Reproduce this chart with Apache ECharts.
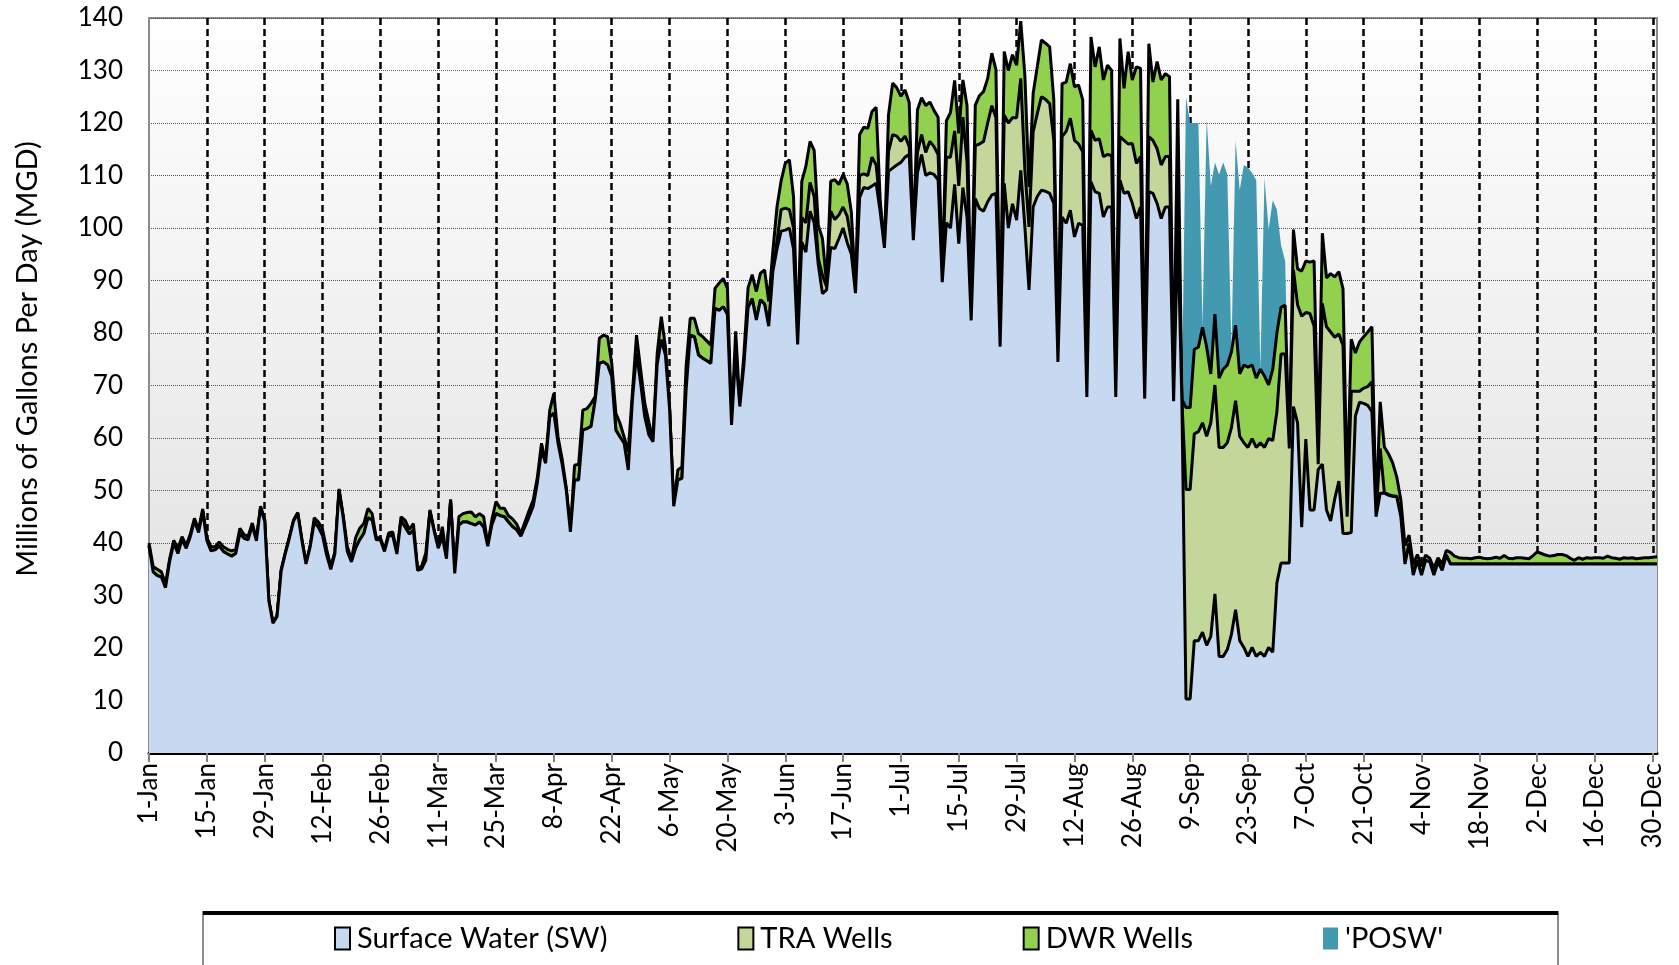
<!DOCTYPE html>
<html>
<head>
<meta charset="utf-8">
<script src="https://cdn.jsdelivr.net/npm/echarts@6/dist/echarts.min.js"></script>
<style>
  html, body { margin: 0; padding: 0; background: #fff; }
  #main { width: 1679px; height: 965px; }
</style>
</head>
<body>
<div id="main"></div>
<script>
// leap year, 1-Jan .. 31-Dec (366 days)
var monthNames = ['Jan','Feb','Mar','Apr','May','Jun','Jul','Aug','Sep','Oct','Nov','Dec'];
var monthDays = [31,29,31,30,31,30,31,31,30,31,30,31];
var days = [];
for (var m = 0; m < 12; m++) {
    for (var d = 1; d <= monthDays[m]; d++) {
        days.push(d + '-' + monthNames[m]);
    }
}

//Surface Water (SW)
var swData = [
    39.5, 34.5, 33.8, 33.5, 31.5, 36.5, 40, 38, 40.7, 39,
    41.2, 44.2, 42, 46, 40.5, 38.5, 38.7, 39.4, 38.4, 37.9,
    37.5, 38, 41.8, 40.9, 40.6, 43.3, 40.4, 46.7, 44.2, 29,
    24.7, 26, 34.7, 38, 41, 44.2, 45.6, 40.5, 36, 39.2,
    44, 43, 41.4, 37.7, 35, 38, 50, 44.8, 38.4, 36.4,
    39, 40.6, 41.8, 44.8, 44.4, 40.6, 40.6, 38.4, 41.4, 41.4,
    37.9, 44.3, 43, 41.7, 42.4, 34.8, 35.1, 36.7, 46, 42.3,
    39, 41.2, 37, 48, 34.2, 43.4, 44, 44, 43.7, 43.4,
    44, 43, 39.4, 43.5, 45.6, 45.2, 45, 44, 43.1, 42.5,
    41.3, 43.1, 45, 47, 51.5, 57.7, 55.2, 64, 64.7, 59,
    55, 50, 42.1, 52, 52, 61.5, 61.8, 62.2, 67.2, 74.2,
    74.5, 73.9, 71.7, 61.5, 60.2, 59, 53.9, 67.2, 76.1, 70.4,
    64, 60.6, 59.3, 74, 78.7, 75.8, 65.5, 47, 52, 52.3,
    69.1, 79.6, 79.3, 75.8, 75.2, 74.7, 74.2, 84.7, 84.3, 85,
    83.5, 62.5, 76, 66, 74, 84.8, 86.5, 82.5, 86.3, 85.5,
    81.3, 91.7, 96, 99.4, 99.6, 100, 96, 77.8, 97.3, 95.4,
    103.2, 101, 93, 87.5, 88.2, 96.3, 96.1, 98, 100, 97.2,
    95, 87.6, 105.8, 107.7, 107.5, 108, 108.5, 103, 96.2, 110.8,
    111.4, 112, 112.5, 113.5, 114, 97.7, 110.5, 114, 110, 110.5,
    110.2, 109.2, 89.7, 101, 100, 108.3, 97, 107.7, 102, 82.4,
    105.6, 103.7, 103.2, 105, 106.3, 106.6, 77.4, 108.5, 100, 104.6,
    101.5, 111, 100.2, 88.2, 104, 106, 107.2, 107, 106.6, 104.7,
    74.5, 102.1, 100.9, 103.4, 98.3, 100.9, 100.5, 67.8, 108.8, 106.9,
    106.6, 102.1, 104, 104, 67.8, 109.1, 106.6, 106.9, 104.7, 101.8,
    104, 67.5, 106.9, 106.6, 104.7, 101.8, 104, 104, 67, 100,
    67, 10.3, 10.3, 21.4, 21.4, 23, 20.5, 22.2, 30.3, 18.4,
    18.4, 19.7, 22.6, 27.3, 21.4, 20.1, 18.4, 20.1, 18.4, 19.2,
    18.4, 20.1, 19.2, 32.4, 36.2, 36.2, 36.2, 66, 62.9, 43,
    59.8, 46.3, 46.3, 54, 55, 46.3, 44.2, 48.4, 51.8, 41.8,
    41.8, 42, 64.2, 66.8, 66.6, 66.2, 65, 45, 49.5, 49.5,
    49.1, 48.9, 48.8, 45, 36, 39.9, 33.9, 36.7, 33.9, 36.7,
    36.4, 33.9, 36.4, 34.8, 37.7, 36, 36, 36, 36, 36,
    36, 36, 36, 36, 36, 36, 36, 36, 36, 36,
    36, 36, 36, 36, 36, 36, 36, 36, 36, 36,
    36, 36, 36, 36, 36, 36, 36, 36, 36, 36,
    36, 36, 36, 36, 36, 36, 36, 36, 36, 36,
    36, 36, 36, 36, 36, 36
];

//TRA Wells
var traData = [
    0, 0, 0, 0, 0, 0, 0, 0, 0, 0, 0, 0, 0, 0, 0, 0, 0, 0, 0, 0,
    0, 0, 0, 0, 0, 0, 0, 0, 0, 0, 0, 0, 0, 0, 0, 0, 0, 0, 0, 0,
    0, 0, 0, 0, 0, 0, 0, 0, 0, 0, 0, 0, 0, 0, 0, 0, 0, 0, 0, 0,
    0, 0, 0, 0, 0, 0, 0, 0, 0, 0, 0, 0, 0, 0, 0, 0, 0, 0, 0, 0,
    0, 0, 0, 0, 0, 0, 0, 0, 0, 0, 0, 0, 0, 0, 0, 0, 0, 0, 0, 0,
    0, 0, 0, 0, 0, 0, 0, 0, 0, 0, 0, 0, 0, 0, 0, 0, 0, 0, 0, 0,
    0, 0, 0, 0, 0, 0, 0, 0, 0, 0, 0, 0, 0, 0, 0, 0, 0, 0, 0, 0,
    0, 0, 0, 0, 0, 0, 0, 0, 0, 0,
    0, 0, 1.5, 4.1, 4.2, 3.5, 4, 0.2, 4.7, 5.6,
    5.5, 5, 1.2, 3.5, 0.6, 6.9, 5.5, 4.5, 4, 5,
    2.5, 0.2, 4.2, 2.6, 2.5, 5.5, 3.5, 1, 0.1, 3.8,
    6.4, 5.5, 4, 4, 1.5, 0.1, 3.9, 3.8, 4.4, 6,
    5.3, 4.8, 0.1, 12.5, 13.5, 10.2, 11, 13.4, 10.5, 0.1,
    10.1, 12.3, 13.3, 15, 17, 14.4, 0.1, 13, 20, 16.4,
    19.5, 17.5, 10.8, 12, 14.3, 15.8, 17.8, 17.5, 17.1, 12,
    0.1, 15.3, 17.5, 17.5, 18.4, 15.1, 14, 0.1, 9.8, 9.8,
    10.4, 11.5, 10, 9.8, 0.1, 8.3, 10.1, 9.1, 11.4, 10.5,
    9.6, 0.1, 10.5, 10.1, 10.4, 10.2, 9.6, 9.6, 0.1, 10,
    0.1, 39.9, 39.9, 39.4, 39.8, 39.9, 39.8, 40.7, 39.8, 39.8,
    39.8, 39.4, 39.4, 39.8, 38.9, 39, 39.8, 39.8, 39.8, 39.9,
    39.8, 39.8, 40.3, 32.6, 39.8, 39.8, 21.8, 26, 22.5, 40.2,
    24.1, 37.4, 35, 1, 30.6, 34.9, 36, 30.8, 28, 35.8,
    3.2, 26.9, 4.7, 2.1, 2.9, 3.6, 5.7, 0.2, 8.5, 0.2,
    0.1, 0.1, 0.1, 0, 0, 0, 0, 0, 0, 0,
    0, 0, 0, 0, 0, 0, 0, 0, 0, 0, 0, 0, 0, 0, 0, 0, 0, 0, 0, 0,
    0, 0, 0, 0, 0, 0, 0, 0, 0, 0, 0, 0, 0, 0, 0, 0, 0, 0, 0, 0,
    0, 0, 0, 0, 0, 0, 0, 0, 0, 0, 0, 0, 0, 0, 0, 0
];

//DWR Wells
var dwrData = [
    0.5, 1, 1.2, 1, 0.7, 0.5, 0.5, 1, 0.5, 0.5,
    0.5, 0.5, 0.5, 0.5, 0.5, 0.8, 0.6, 0.8, 0.9, 0.9,
    1, 0.8, 1, 0.7, 0.7, 0.5, 0.4, 0.3, 0.3, 0.2,
    0.2, 0.2, 0.3, 0.2, 0.2, 0.2, 0.2, 0.2, 0.2, 0.2,
    0.8, 1, 1.2, 1.1, 0.5, 0.3, 0.3, 0.5, 0.9, 0.5,
    2, 2.2, 1.9, 1.8, 1.2, 0.4, 0.4, 0.4, 0.5, 0.7,
    0.3, 0.7, 1.3, 0.9, 1.3, 0.3, 0.5, 1.4, 0.3, 0.3,
    0.3, 1.9, 0.4, 0.3, 0.2, 1.6, 1.6, 1.8, 2.2, 1.6,
    1.6, 2, 0.3, 1, 2.3, 1.4, 1.6, 1.2, 1.5, 1.1,
    0.5, 0.9, 1.2, 1.2, 1, 1.3, 0.3, 1.3, 3.8, 1.2,
    1, 0.5, 0.3, 2.8, 3, 3.8, 3.8, 4.4, 0.7, 4.8,
    5.1, 5.4, 2.5, 3.2, 2.6, 1.2, 3.5, 1.3, 3.5, 2.6,
    2.6, 2.4, 0.3, 2.1, 4.4, 1.6, 0.5, 0.2, 1.9, 2.2,
    4.5, 3.2, 3.5, 4.1, 4.1, 3.8, 3.5, 3.8, 5.2, 5.4,
    5, 0.5, 4.3, 0.3, 2, 3.8, 4.6, 5.4, 5.1, 6.5,
    4.7, 3.9, 6.5, 5.5, 8.5, 9.5, 6, 0.3, 6.9, 10.8,
    7.8, 8.8, 6.3, 7, 0.7, 5.7, 7.6, 5.8, 6.2, 6.2,
    5.5, 0.2, 7.8, 8.9, 9, 8.7, 11, 1, 0.2, 7,
    9.8, 9.2, 8.6, 8.8, 8.4, 0.2, 8.1, 7, 8.9, 7.5,
    6.9, 7.1, 0.2, 6.9, 8.5, 9.6, 10, 7.1, 10.8, 0.2,
    7.7, 9.2, 9.5, 8.5, 10, 9.1, 0.2, 12.1, 10, 12,
    10, 10.9, 18, 7.6, 7.3, 8.9, 10.8, 10.7, 10.8, 7.7,
    0.2, 10.1, 9.4, 10.4, 10.2, 11.2, 9.9, 2.1, 17.8, 14,
    17.5, 14.6, 17, 16.2, 1.1, 18.7, 9.9, 17.6, 12.1, 18.4,
    16.8, 1.4, 17.7, 11.1, 16.6, 16.2, 15.8, 15.2, 1.9, 14.5,
    0.2, 15.6, 15.6, 16.1, 16.1, 18.2, 17, 9.3, 13.5, 13.2,
    14.9, 14.8, 14.4, 14.4, 11.9, 14.8, 15.3, 14, 13.2, 14,
    13.6, 10.2, 13.6, 15, 8.9, 9.3, 0.5, 7.7, 6.8, 8.6,
    9.8, 9.8, 12.4, 3, 13.4, 9.3, 11.1, 11.5, 11.9, 10.8,
    5, 9.9, 7.3, 9.4, 9.8, 10.4, 10.5, 0.3, 8.9, 8.6,
    7.8, 6.3, 3.7, 3.2, 3.5, 1.6, 2, 1.1, 1.6, 1,
    0.7, 1.3, 0.8, 1.2, 0.9, 2.2, 1.5, 1.2, 1.1, 1.1,
    1, 1.2, 1.3, 1.1, 1, 1.1, 1.3, 1.1, 1.6, 1.1,
    1, 1.2, 1.2, 1.1, 1, 1.6, 2.3, 2, 1.7, 1.5,
    1.6, 1.8, 1.8, 1.6, 1.1, 0.7, 1.2, 0.9, 1.2, 1.1,
    1.2, 1.2, 1.1, 1.5, 1.2, 1.1, 0.9, 1.2, 1.1, 1.2,
    1, 1.1, 1.2, 1.2, 1.3, 1.4
];

//'POSW'
var poswData = [
    0, 0, 0, 0, 0, 0, 0, 0, 0, 0, 0, 0, 0, 0, 0, 0, 0, 0, 0, 0,
    0, 0, 0, 0, 0, 0, 0, 0, 0, 0, 0, 0, 0, 0, 0, 0, 0, 0, 0, 0,
    0, 0, 0, 0, 0, 0, 0, 0, 0, 0, 0, 0, 0, 0, 0, 0, 0, 0, 0, 0,
    0, 0, 0, 0, 0, 0, 0, 0, 0, 0, 0, 0, 0, 0, 0, 0, 0, 0, 0, 0,
    0, 0, 0, 0, 0, 0, 0, 0, 0, 0, 0, 0, 0, 0, 0, 0, 0, 0, 0, 0,
    0, 0, 0, 0, 0, 0, 0, 0, 0, 0, 0, 0, 0, 0, 0, 0, 0, 0, 0, 0,
    0, 0, 0, 0, 0, 0, 0, 0, 0, 0, 0, 0, 0, 0, 0, 0, 0, 0, 0, 0,
    0, 0, 0, 0, 0, 0, 0, 0, 0, 0, 0, 0, 0, 0, 0, 0, 0, 0, 0, 0,
    0, 0, 0, 0, 0, 0, 0, 0, 0, 0, 0, 0, 0, 0, 0, 0, 0, 0, 0, 0,
    0, 0, 0, 0, 0, 0, 0, 0, 0, 0, 0, 0, 0, 0, 0, 0, 0, 0, 0, 0,
    0, 0, 0, 0, 0, 0, 0, 0, 0, 0, 0, 0, 0, 0, 0, 0, 0, 0, 0, 0,
    0, 0, 0, 0, 0, 0, 0, 0, 0, 0, 0, 0, 0, 0, 0, 0, 0, 0, 0, 0,
    0, 0, 0, 0, 0, 0, 0, 0, 0, 0,
    0, 59.1, 54.2, 43.1, 42.7, 0, 43.5, 35.8, 28.9, 38.8,
    39.4, 36.3, 0, 35.1, 35, 38.1, 38, 36.6, 37.7, 0,
    37.7, 29.6, 32.2, 23.5, 11.8, 8.4, 0, 0, 0, 0,
    0, 0, 0, 0, 0, 0, 0, 0, 0, 0, 0, 0, 0, 0, 0, 0, 0, 0, 0, 0,
    0, 0, 0, 0, 0, 0, 0, 0, 0, 0, 0, 0, 0, 0, 0, 0, 0, 0, 0, 0,
    0, 0, 0, 0, 0, 0, 0, 0, 0, 0, 0, 0, 0, 0, 0, 0, 0, 0, 0, 0,
    0, 0, 0, 0, 0, 0, 0, 0, 0, 0, 0, 0, 0, 0, 0, 0, 0, 0, 0, 0,
    0, 0, 0, 0, 0, 0
];

var yTicks = [0, 10, 20, 30, 40, 50, 60, 70, 80, 90, 100, 110, 120, 130, 140];
var yTitle = 'Millions of Gallons Per Day (MGD)';

var FONT = 'Lato';

var chart = echarts.init(document.getElementById('main'), null, { renderer: 'canvas' });

var option = {
    animation: false,
    textStyle: { fontFamily: FONT, color: '#000' },
    grid: {
        left: 149,
        right: 22,
        top: 18,
        bottom: 212,
        show: true,
        borderColor: '#8c8c8c',
        borderWidth: 2,
        backgroundColor: new echarts.graphic.LinearGradient(0, 0, 0, 1, [
            { offset: 0, color: '#ffffff' },
            { offset: 1, color: '#dcdcdc' }
        ])
    },
    graphic: [
        {
            type: 'rect',
            z: -1,
            shape: { x: 203, y: 912, width: 1355, height: 70 },
            style: { fill: '#fff', stroke: '#8c8c8c', lineWidth: 2 }
        },
        {
            type: 'line',
            z: -1,
            shape: { x1: 203, y1: 913, x2: 1558, y2: 913 },
            style: { stroke: '#000', lineWidth: 4 }
        },
        {
            // y axis title
            type: 'text',
            x: 28,
            y: 359,
            rotation: Math.PI / 2,
            style: {
                text: yTitle,
                align: 'center',
                verticalAlign: 'middle',
                fontFamily: FONT,
                fontSize: 29,
                fill: '#000'
            }
        }
    ],
    legend: {
        left: 329,
        top: 919,
        icon: 'rect',
        itemWidth: 15,
        itemHeight: 22,
        itemGap: 130,
        textStyle: { fontFamily: FONT, fontSize: 29, color: '#000', padding: [0, 0, 0, 2] },
        data: [
            { name: 'Surface Water (SW)', itemStyle: { borderColor: '#000', borderWidth: 2 } },
            { name: 'TRA Wells', itemStyle: { borderColor: '#000', borderWidth: 2 } },
            { name: 'DWR Wells', itemStyle: { borderColor: '#000', borderWidth: 2 } },
            { name: "'POSW'", itemStyle: { borderWidth: 0 } }
        ]
    },
    xAxis: {
        type: 'category',
        boundaryGap: false,
        data: days,
        axisLine: { show: true, lineStyle: { color: '#000', width: 3 } },
        axisTick: { show: true, interval: 13, length: 9, lineStyle: { color: '#808080', width: 2 } },
        axisLabel: {
            interval: 13,
            rotate: 90,
            margin: 10,
            fontFamily: FONT,
            fontSize: 26,
            color: '#000'
        },
        splitLine: {
            show: true,
            // every 14 days, but not on the left border
            interval: function (index) { return index > 0 && index % 14 === 0; },
            lineStyle: { color: '#000', width: 2.5, type: [7, 4] }
        }
    },
    yAxis: {
        type: 'value',
        min: yTicks[0],
        max: yTicks[yTicks.length - 1],
        interval: 10,
        axisLine: { show: true, lineStyle: { color: '#8c8c8c', width: 2 } },
        axisTick: { show: false },
        axisLabel: { margin: 26, fontFamily: FONT, fontSize: 26, color: '#000' },
        splitLine: { show: true, lineStyle: { color: '#555', width: 1, type: 'dotted' } }
    },
    series: [
        {
            name: 'Surface Water (SW)',
            type: 'line',
            stack: 'total',
            z: 5,
            showSymbol: false,
            symbol: 'none',
            itemStyle: { color: '#c6d9f1' },
            lineStyle: { color: '#000', width: 3 },
            areaStyle: { color: '#c6d9f1', opacity: 1 },
            data: swData
        },
        {
            name: 'TRA Wells',
            type: 'line',
            stack: 'total',
            z: 4,
            showSymbol: false,
            symbol: 'none',
            itemStyle: { color: '#c4d79b' },
            lineStyle: { color: '#000', width: 3 },
            areaStyle: { color: '#c4d79b', opacity: 1 },
            data: traData
        },
        {
            name: 'DWR Wells',
            type: 'line',
            stack: 'total',
            z: 3,
            showSymbol: false,
            symbol: 'none',
            itemStyle: { color: '#92d050' },
            lineStyle: { color: '#000', width: 3 },
            areaStyle: { color: '#92d050', opacity: 1 },
            data: dwrData
        },
        {
            name: "'POSW'",
            type: 'line',
            stack: 'total',
            z: 2,
            showSymbol: false,
            symbol: 'none',
            itemStyle: { color: '#4299b0' },
            lineStyle: { width: 0, opacity: 0 },
            areaStyle: { color: '#4299b0', opacity: 1 },
            data: poswData
        }
    ]
};

chart.setOption(option);
</script>
</body>
</html>
